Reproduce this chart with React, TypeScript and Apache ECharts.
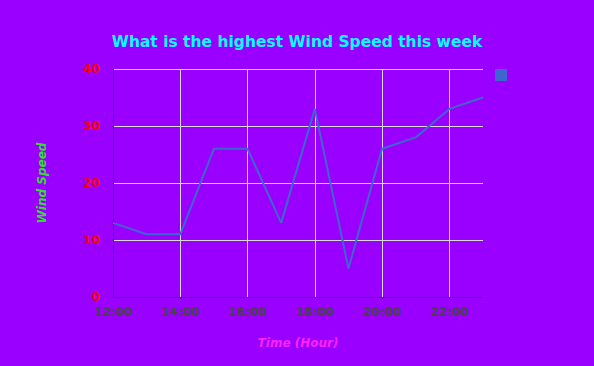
import React, { useEffect, useRef } from "react";
import * as echarts from "echarts";

const hours = ["12:00", "13:00", "14:00", "15:00", "16:00", "17:00", "18:00", "19:00", "20:00", "21:00", "22:00", "23:00"];
const windSpeed = [13, 11, 11, 26, 26, 13, 33, 5, 26, 28, 33, 35];
const yTicks = { min: 0, max: 40, interval: 10 };

export default function App() {
  const ref = useRef<HTMLDivElement>(null);
  useEffect(() => {
    const chart = echarts.init(ref.current!, null, { renderer: "svg" });
    const font = "'DejaVu Sans', sans-serif";
    chart.setOption({
      animation: false,
      backgroundColor: "#9900ff",
      title: {
        text: "What is the highest Wind Speed this week",
        left: "center",
        top: 29,
        textStyle: { color: "#00ffff", fontSize: 15.5, fontWeight: "bold", fontFamily: font },
      },
      legend: {
        right: 82,
        top: 64,
        icon: "rect",
        itemWidth: 12,
        itemHeight: 12,
        formatter: () => "",
        data: ["Wind Speed"],
      },
      grid: { left: 113, right: 111, top: 69, bottom: 69 },
      xAxis: {
        type: "category",
        data: hours,
        boundaryGap: false,
        name: "Time (Hour)",
        nameLocation: "middle",
        nameGap: 40,
        nameTextStyle: { color: "#ff22ff", fontSize: 12, fontWeight: "bold", fontStyle: "italic", fontFamily: font },
        axisLine: { lineStyle: { color: "#333", width: 1 } },
        axisTick: { show: false },
        axisLabel: { interval: 1, color: "#444", fontSize: 12, fontWeight: "bold", fontFamily: font, margin: 9 },
        splitLine: { show: true, interval: 1, lineStyle: { color: "#d8d8d8", width: 1 } },
      },
      yAxis: {
        type: "value",
        min: yTicks.min,
        max: yTicks.max,
        interval: yTicks.interval,
        name: "Wind Speed",
        nameLocation: "middle",
        nameGap: 65,
        nameTextStyle: { color: "#33dd33", fontSize: 12, fontWeight: "bold", fontStyle: "italic", fontFamily: font },
        axisLine: { show: true, lineStyle: { color: "#333", width: 1 } },
        axisTick: { show: false },
        axisLabel: { color: "#ff0000", fontSize: 12, fontWeight: "bold", fontFamily: font, margin: 13 },
        splitLine: { show: true, lineStyle: { color: "#d8d8d8", width: 1 } },
      },
      series: [
        {
          name: "Wind Speed",
          type: "line",
          data: windSpeed,
          showSymbol: false,
          symbol: "none",
          color: "#3d67cc",
          lineStyle: { color: "#3d67cc", width: 2 },
        },
      ],
    });
    return () => chart.dispose();
  }, []);
  return <div ref={ref} style={{ width: 594, height: 366, position: "absolute", left: 0, top: 0 }} />;
}
